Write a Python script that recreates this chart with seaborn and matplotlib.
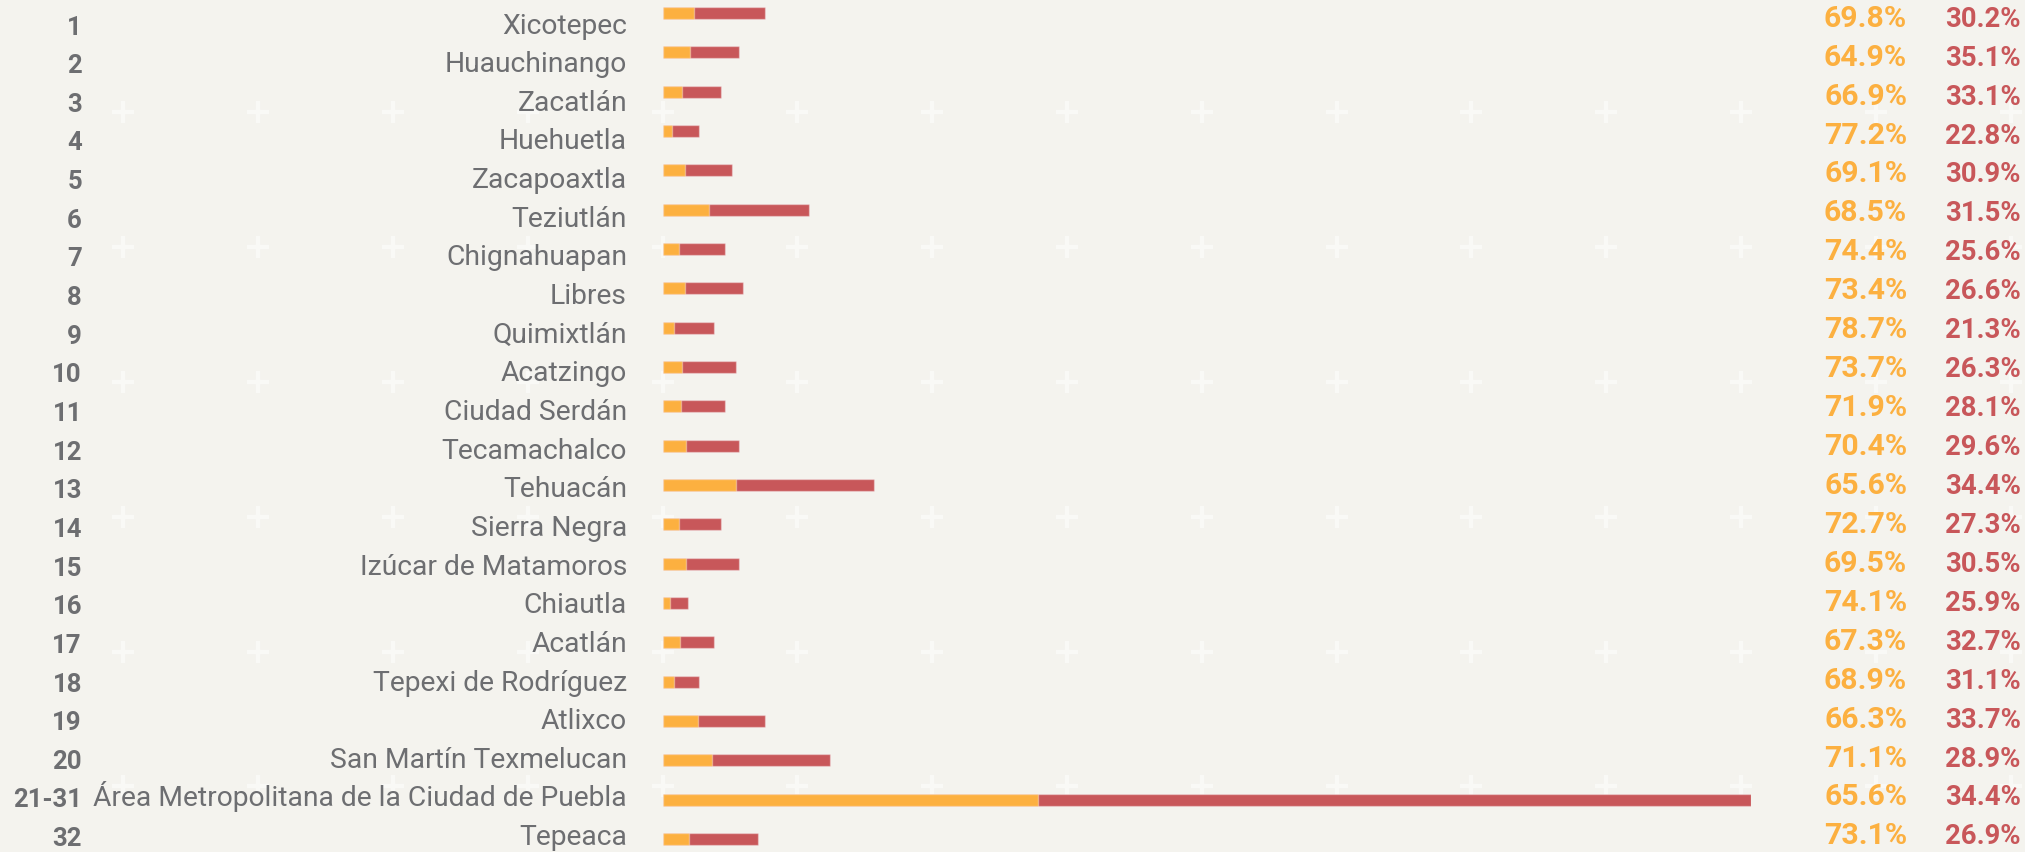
import numpy as np
import pandas as pd
import seaborn as sns
import matplotlib
matplotlib.use("agg")
import matplotlib.pyplot as plt

ranks = ["1", "2", "3", "4", "5", "6", "7", "8", "9", "10", "11", "12", "13",
         "14", "15", "16", "17", "18", "19", "20", "21-31", "32"]
names = ["Xicotepec", "Huauchinango", "Zacatlán", "Huehuetla", "Zacapoaxtla",
         "Teziutlán", "Chignahuapan", "Libres", "Quimixtlán", "Acatzingo",
         "Ciudad Serdán", "Tecamachalco", "Tehuacán", "Sierra Negra",
         "Izúcar de Matamoros", "Chiautla", "Acatlán", "Tepexi de Rodríguez",
         "Atlixco", "San Martín Texmelucan",
         "Área Metropolitana de la Ciudad de Puebla", "Tepeaca"]
# bar totals (relative units)
totals = [102, 76, 58, 36, 69, 146, 62, 80, 51, 73, 62, 76, 211, 58, 76, 25,
          51, 36, 102, 167, 1088, 95]
pct_orange = [69.8, 64.9, 66.9, 77.2, 69.1, 68.5, 74.4, 73.4, 78.7, 73.7, 71.9,
              70.4, 65.6, 72.7, 69.5, 74.1, 67.3, 68.9, 66.3, 71.1, 65.6, 73.1]
pct_red = [30.2, 35.1, 33.1, 22.8, 30.9, 31.5, 25.6, 26.6, 21.3, 26.3, 28.1,
           29.6, 34.4, 27.3, 30.5, 25.9, 32.7, 31.1, 33.7, 28.9, 34.4, 26.9]

BG = "#f4f3ee"
ORANGE = "#fcb040"
RED = "#c8575a"
GRAY = "#6d6e71"

df = pd.DataFrame({"name": names, "total": totals, "pr": pct_red})
# the short (orange) segment in the picture is the smaller share
df["seg"] = df["total"] * df["pr"] / 100

W, H = 2025, 853
fig = plt.figure(figsize=(W / 100, H / 100), dpi=100, facecolor=BG)

# faint plus pattern in the background (pixel coordinates)
bg = fig.add_axes([0, 0, 1, 1])
bg.set_xlim(0, W)
bg.set_ylim(H, 0)
bg.axis("off")
gx = 123.3 + 134.8 * np.arange(15)
gy = 113.3 + 134.8 * np.arange(6)
PX, PY = np.meshgrid(gx, gy)
bg.plot(PX.ravel(), PY.ravel(), ls="none", marker="+", markersize=16,
        markeredgewidth=3.1, color="white", alpha=0.5)

x0, x1 = 663.3, 1751.3
row0, step = 14.0, 39.33
ax = fig.add_axes([x0 / W, 0, (x1 - x0) / W, 1])
ax.set_facecolor("none")
sns.barplot(data=df, y="name", x="total", color=RED, saturation=1, width=0.305,
            orient="h", ax=ax, edgecolor=(1, 1, 1, 0.35), linewidth=1)
sns.barplot(data=df, y="name", x="seg", color=ORANGE, saturation=1, width=0.305,
            orient="h", ax=ax, edgecolor=(1, 1, 1, 0.35), linewidth=1)
ax.set_xlim(0, max(totals))
ax.set_ylim((H - row0) / step, -row0 / step)
ax.axis("off")

# overlay in pixel coordinates for the text columns
ov = fig.add_axes([0, 0, 1, 1])
ov.set_xlim(0, W)
ov.set_ylim(H, 0)
ov.axis("off")
ov.set_facecolor("none")

for i in range(len(names)):
    yb = 34.5 + 38.65 * i
    ov.text(82, yb, ranks[i], ha="right", va="baseline", color=GRAY,
            fontsize=18.5, fontweight="bold", family="Roboto")
    ov.text(627, yb - 1, names[i], ha="right", va="baseline", color=GRAY,
            fontsize=20.3, family="Roboto")
    yp = 26.7 + 38.94 * i
    ov.text(1907, yp, f"{pct_orange[i]:.1f}%", ha="right", va="baseline",
            color=ORANGE, fontsize=21.8, fontweight="bold", family="Roboto")
    ov.text(1945, yp, f"{pct_red[i]:.1f}%", ha="left", va="baseline",
            color=RED, fontsize=19.8, fontweight="bold", family="Roboto")

fig.savefig("out.png", dpi=100, facecolor=BG)
